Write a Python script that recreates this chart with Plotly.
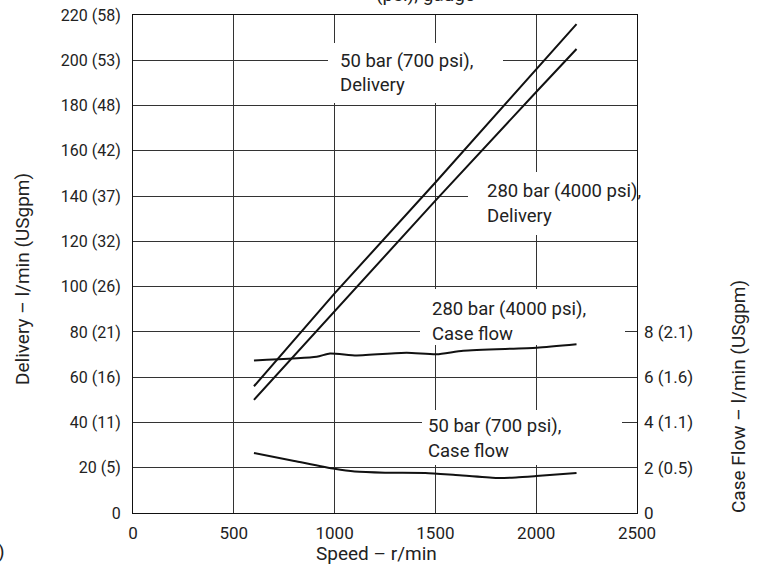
import plotly.graph_objects as go

# ---- data ----
speed_delivery = [600, 1000, 1500, 2000, 2200]
delivery_50bar = [56, 97, 146, 196, 216]
delivery_280bar = [50, 89, 138, 186, 205]

speed_case_280 = [600, 911, 977, 1109, 1357, 1506, 1638, 2002, 2200]
case_280bar = [6.74, 6.90, 7.05, 6.96, 7.08, 7.01, 7.17, 7.30, 7.45]

speed_case_50 = [600, 800, 1000, 1100, 1250, 1450, 1600, 1800, 1900, 2000, 2200]
case_50bar = [2.65, 2.30, 1.95, 1.83, 1.78, 1.77, 1.68, 1.55, 1.57, 1.63, 1.77]

x_ticks = [0, 500, 1000, 1500, 2000, 2500]
y_ticks = [0, 20, 40, 60, 80, 100, 120, 140, 160, 180, 200, 220]
y_ticktext = ["0", "20 (5)", "40 (11)", "60 (16)", "80 (21)", "100 (26)", "120 (32)",
              "140 (37)", "160 (42)", "180 (48)", "200 (53)", "220 (58)"]
y2_ticks = [0, 2, 4, 6, 8]
y2_ticktext = ["0", "2 (0.5)", "4 (1.1)", "6 (1.6)", "8 (2.1)"]

label_lines = ["50 bar (700 psi),", "Delivery",
               "280 bar (4000 psi),", "Delivery",
               "280 bar (4000 psi),", "Case flow",
               "50 bar (700 psi),", "Case flow"]

FONT = "Roboto, Liberation Sans, Arial, sans-serif"
TXT = "#222222"
LINE = "#111111"

# plot area in pixels
L, T, W, H = 133, 15, 504, 498
FW, FH = 757, 569


def px_x(p):  # pixel -> x data
    return (p - L) / W * 2500


def px_y(p):  # pixel -> y data
    return (T + H - p) / H * 220


def paper_x(p):
    return (p - L) / W


def paper_y(p):
    return (T + H - p) / H


fig = go.Figure()
fig.add_trace(go.Scatter(x=speed_delivery, y=delivery_50bar, mode="lines",
                         line=dict(color=LINE, width=2), showlegend=False))
fig.add_trace(go.Scatter(x=speed_delivery, y=delivery_280bar, mode="lines",
                         line=dict(color=LINE, width=2), showlegend=False))
fig.add_trace(go.Scatter(x=speed_case_280, y=case_280bar, mode="lines", yaxis="y2",
                         line=dict(color=LINE, width=2, shape="spline", smoothing=0.6),
                         showlegend=False))
fig.add_trace(go.Scatter(x=speed_case_50, y=case_50bar, mode="lines", yaxis="y2",
                         line=dict(color=LINE, width=2, shape="spline", smoothing=0.6),
                         showlegend=False))

# white label backgrounds (pixel boxes: x0, x1, ytop, ybottom)
boxes_px = [(328, 503, 43, 103), (468, 637, 172, 235), (420, 625, 289, 345), (422, 622, 410, 465)]
for x0, x1, yt, yb in boxes_px:
    fig.add_shape(type="rect", x0=px_x(x0), x1=px_x(x1), y0=px_y(yb), y1=px_y(yt),
                  xref="x", yref="y", fillcolor="white", line=dict(width=0), layer="between")

# label lines: (left px, center px)
line_pos = [(338, 61), (338, 85), (485, 191), (485, 216), (430, 309), (430, 334), (426, 426), (426, 451)]
for (xp, yp), t in zip(line_pos, label_lines):
    fig.add_annotation(x=px_x(xp), y=px_y(yp), xref="x", yref="y", text=t, showarrow=False,
                       xanchor="left", yanchor="middle", align="left",
                       font=dict(family=FONT, size=18.5, color=TXT))

# axis titles
fig.add_annotation(x=paper_x(376), y=paper_y(553), xref="paper", yref="paper",
                   text="Speed – r/min", showarrow=False, xanchor="center", yanchor="middle",
                   font=dict(family=FONT, size=19, color=TXT))
fig.add_annotation(x=paper_x(23), y=paper_y(279), xref="paper", yref="paper",
                   text="Delivery – l/min (USgpm)", showarrow=False, textangle=-90,
                   xanchor="center", yanchor="middle",
                   font=dict(family=FONT, size=19, color=TXT))
fig.add_annotation(x=paper_x(738), y=paper_y(397), xref="paper", yref="paper",
                   text="Case Flow – l/min (USgpm)", showarrow=False, textangle=-90,
                   xanchor="center", yanchor="middle",
                   font=dict(family=FONT, size=19, color=TXT))
# clipped fragments at page edges
fig.add_annotation(x=paper_x(425), y=paper_y(8), xref="paper", yref="paper",
                   text="(psi), gauge", showarrow=False, xanchor="center", yanchor="bottom",
                   font=dict(family=FONT, size=19, color=TXT))
fig.add_annotation(x=paper_x(7), y=paper_y(551), xref="paper", yref="paper",
                   text=")", showarrow=False, xanchor="right", yanchor="middle",
                   font=dict(family=FONT, size=19, color=TXT))

axis_common = dict(showline=True, linecolor=LINE, linewidth=1, mirror=True, automargin=False,
                   zeroline=False, ticks="")

fig.update_layout(
    width=FW, height=FH,
    margin=dict(l=L, r=FW - L - W, t=T, b=FH - T - H),
    paper_bgcolor="white", plot_bgcolor="white",
    xaxis=dict(range=[0, 2500], tickvals=x_ticks, showgrid=True, gridcolor="#333333",
               gridwidth=1, ticklabelstandoff=5,
               tickfont=dict(family=FONT, size=17, color=TXT), **axis_common),
    yaxis=dict(range=[0, 220], tickvals=y_ticks, ticktext=y_ticktext, showgrid=True,
               gridcolor="#333333", gridwidth=1, ticklabelstandoff=8,
               tickfont=dict(family=FONT, size=16, color=TXT), **axis_common),
    yaxis2=dict(range=[0, 22], overlaying="y", side="right", tickvals=y2_ticks,
                ticktext=y2_ticktext, showgrid=False, showline=False, zeroline=False,
                ticks="", ticklabelstandoff=6, automargin=False,
                tickfont=dict(family=FONT, size=17, color=TXT)),
    showlegend=False,
)

fig.write_html("out.html", config={"displayModeBar": False},
               post_script="document.body.style.margin='0';")
